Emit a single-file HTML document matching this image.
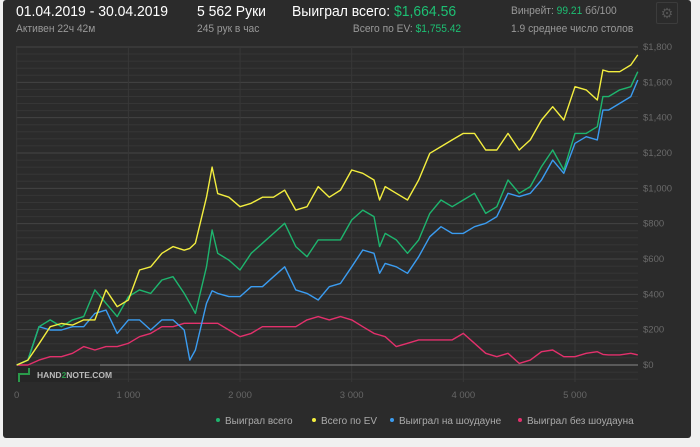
<!DOCTYPE html>
<html><head><meta charset="utf-8">
<style>
body{margin:0;background:#f0f0f0;width:700px;height:447px;overflow:hidden;font-family:"Liberation Sans","Noto Sans CJK SC",sans-serif;}
#panel{position:absolute;left:3px;top:0;width:688px;height:438px;background:#2b2b2b;border-radius:3px;}
.t{position:absolute;white-space:nowrap;transform-origin:0 0;transform:scaleX(0.93);}
</style></head><body>
<div id="panel"></div>
<div class="t" style="left:16px;top:3px;font-size:15px;color:#fff">01.04.2019 - 30.04.2019</div>
<div class="t" style="left:16px;top:23px;font-size:11px;color:#999">Активен 22ч 42м</div>
<div class="t" style="left:197px;top:3px;font-size:15px;color:#fff">5 562 Руки</div>
<div class="t" style="left:197px;top:23px;font-size:11px;color:#999">245 рук в час</div>
<div class="t" style="left:292px;top:3px;font-size:15px;color:#fff">Выиграл всего: <span style="color:#1dbf73">$1,664.56</span></div>
<div class="t" style="left:345px;top:23px;width:113px;text-align:right;font-size:11px;color:#999;transform-origin:100% 0">Всего по EV: <span style="color:#1dbf73">$1,755.42</span></div>
<div class="t" style="left:511px;top:5px;font-size:11px;color:#999">Винрейт: <span style="color:#1dbf73">99.21</span> бб/100</div>
<div class="t" style="left:511px;top:23px;font-size:11px;color:#999">1.9 среднее число столов</div>
<div class="t" style="left:656px;top:2px;width:20px;height:20px;border:1px solid #3c3c3c;border-radius:2px;color:#555;font-size:14px;text-align:center;line-height:20px;transform:none">⚙</div>
<svg id="chart" width="700" height="447" style="position:absolute;left:0;top:0"></svg>
<script>
const hands=[0,100,200,300,400,500,600,700,800,900,1000,1100,1200,1300,1400,1500,1550,1600,1700,1750,1800,1900,2000,2100,2200,2300,2400,2500,2600,2700,2800,2900,3000,3100,3200,3250,3300,3400,3500,3600,3700,3800,3900,4000,4100,4200,4300,4400,4500,4600,4700,4800,4900,5000,5100,5200,5250,5300,5400,5500,5562];
const evWon=[0,28,120,217,235,226,255,255,425,330,368,538,556,632,670,650,660,690,950,1120,970,950,896,915,950,950,990,877,896,1010,950,990,1104,1085,1047,934,1010,972,934,1047,1198,1236,1274,1311,1311,1217,1217,1311,1217,1274,1387,1462,1387,1575,1557,1500,1670,1660,1660,1698,1755];
const totalWon=[0,28,217,255,217,255,274,425,349,274,387,425,405,481,500,405,350,292,556,764,632,594,538,632,689,745,802,670,613,708,708,708,821,877,840,670,745,708,632,708,858,934,896,934,972,858,896,1047,972,1010,1123,1217,1104,1311,1311,1349,1519,1519,1557,1575,1660];
const sdWon=[0,28,217,198,198,217,217,292,311,179,255,255,198,255,255,198,28,85,349,420,405,387,387,443,443,500,556,425,405,368,443,462,556,651,632,519,575,556,519,613,726,783,745,745,783,802,840,972,953,972,1047,1160,1085,1255,1292,1274,1443,1443,1481,1519,1613];
const nsdWon=[0,0,28,47,47,66,104,85,104,104,123,160,179,217,217,236,236,236,236,236,236,198,160,179,217,217,217,217,255,274,255,274,255,217,179,170,160,104,123,142,142,142,142,179,123,66,47,66,9,28,75,85,47,47,66,75,60,57,57,66,57];
const yTicks=[0,200,400,600,800,1000,1200,1400,1600,1800];
const yTickLabels=["$0","$200","$400","$600","$800","$1,000","$1,200","$1,400","$1,600","$1,800"];
const xTicks=[0,1000,2000,3000,4000,5000];
const xTickLabels=["0","1 000","2 000","3 000","4 000","5 000"];

const NS="http://www.w3.org/2000/svg";
const svg=document.getElementById('chart');
const X=h=>16.7+h*0.11166;
const Y=v=>365-v*0.17667;
const L=16,R=638,T=47,B=382;
function mk(tag,attrs,parent){const e=document.createElementNS(NS,tag);for(const k in attrs)e.setAttribute(k,attrs[k]);(parent||svg).appendChild(e);return e;}
for(let v=-80;v<=1800;v+=40){
  const g=mk('line',{x1:L,x2:R,y1:Y(v),y2:Y(v),stroke:v%200===0?'#444':'#363636','stroke-width':1});
  
  
}
xTicks.forEach((h,i)=>{
  const g=mk('line',{x1:X(h),x2:X(h),y1:T,y2:B,stroke:'#383838','stroke-width':1});
  
  
  const t=mk('text',{x:X(h),y:398,'text-anchor':'middle','font-size':9.5,fill:'#666','font-family':'Liberation Sans, sans-serif'});
  t.textContent=xTickLabels[i];
  
  
});
yTicks.forEach((v,i)=>{
  const t=mk('text',{x:643,y:Y(v)+3,'font-size':9.5,fill:'#6a6a6a','font-family':'Liberation Sans, sans-serif'});
  t.textContent=yTickLabels[i];
  
  
});
const zl=mk('line',{x1:100,x2:R,y1:Y(0),y2:Y(0),stroke:'#8a8a8a','stroke-width':1});


function line(vals,color,name){
  const d=vals.map((v,i)=>(i?'L':'M')+X(hands[i]).toFixed(1)+','+Y(v).toFixed(1)).join(' ');
  const p=mk('path',{d:d,fill:'none',stroke:color,'stroke-width':1.4,'stroke-linejoin':'round'});
  
  
}
line(nsdWon,'#e3306c','line-non-showdown');
line(sdWon,'#3b9cf0','line-showdown');
line(totalWon,'#1eb56e','line-total-won');
line(evWon,'#f3ee3f','line-ev');
const wm=mk('rect',{x:16,y:366,width:84,height:16,fill:'#262626'});


const lg=mk('path',{d:'M19,382 L19,374 L29,374 L29,368',fill:'none',stroke:'#2a9a4a','stroke-width':2});


const wt=mk('text',{x:37,y:378,'font-size':8.5,'font-weight':'bold',fill:'#bbb','font-family':'Liberation Sans, sans-serif'});
wt.innerHTML='HAND<tspan fill="#2a9a4a">2</tspan>NOTE.COM';


const legend=[[218,'#1eb56e','Выиграл всего'],[314,'#f3ee3f','Всего по EV'],[392,'#3b9cf0','Выиграл на шоудауне'],[520,'#e3306c','Выиграл без шоудауна']];
legend.forEach(([x,c,txt])=>{
  const d=mk('circle',{cx:x,cy:420,r:2,fill:c});
  
  
  const t=mk('text',{x:x+7,y:424,'font-size':10,fill:'#aaa','font-family':'Liberation Sans, sans-serif'});
  t.textContent=txt;
  
  
});
</script>
</body></html>
